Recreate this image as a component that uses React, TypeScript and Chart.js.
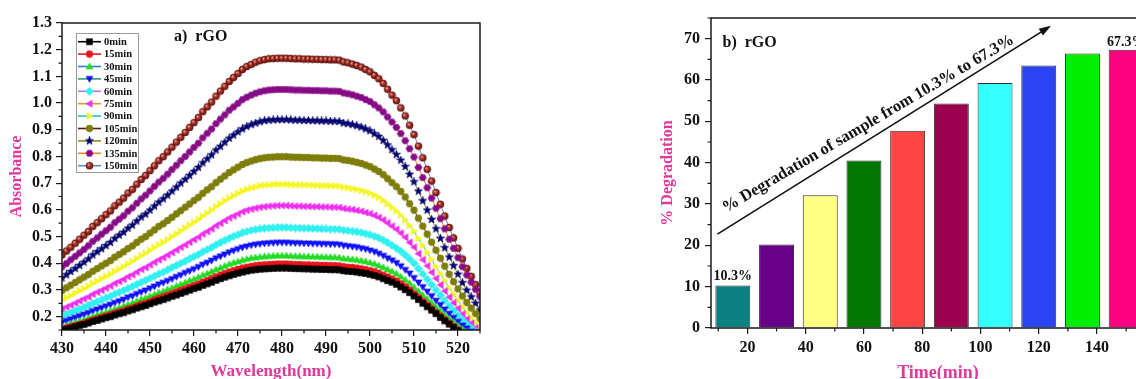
import React, { useEffect, useRef } from 'react';
import { Chart, registerables } from 'chart.js';

Chart.register(...registerables);

const SERIF = '"Liberation Serif", "Times New Roman", Times, serif';
const PINK = '#e0399b';
const INK = '#111111';

// ---------- Left panel: absorbance spectra ----------
const wavelengths = [430, 431, 432, 433, 434, 435, 436, 437, 438, 439, 440, 441, 442, 443, 444, 445, 446, 447, 448, 449, 450, 451, 452, 453, 454, 455, 456, 457, 458, 459, 460, 461, 462, 463, 464, 465, 466, 467, 468, 469, 470, 471, 472, 473, 474, 475, 476, 477, 478, 479, 480, 481, 482, 483, 484, 485, 486, 487, 488, 489, 490, 491, 492, 493, 494, 495, 496, 497, 498, 499, 500, 501, 502, 503, 504, 505, 506, 507, 508, 509, 510, 511, 512, 513, 514, 515, 516, 517, 518, 519, 520, 521, 522, 523, 524, 525];

const abs0min = [.148,.153,.157,.162,.167,.171,.176,.182,.186,.191,.196,.200,.206,.211,.215,.221,.226,.232,.237,.242,.248,.254,.259,.264,.270,.276,.281,.287,.293,.299,.305,.310,.317,.323,.329,.336,.342,.348,.353,.358,.363,.367,.371,.374,.376,.378,.379,
  .380,.381,.382,.382,.382,.381,.380,.380,.379,.379,.378,.378,.377,.377,.376,.376,.375,
  .372,.370,.369,.367,.364,.362,.358,.354,.349,.342,.335,.329,.321,.311,.301,.290,.277,.264,.250,.237,.224,.211,.197,.184,.172,.160,.148,.138,.129,.119,.110,.102];
const abs15min = [.152,.157,.162,.167,.171,.176,.181,.187,.192,.197,.202,.207,.213,.218,.222,.229,.233,.239,.246,.250,.256,.263,.269,.274,.280,.286,.292,.298,.304,.310,.316,.322,.329,.335,.342,.349,.355,.361,.367,.372,.377,.382,.385,.388,.391,.393,.394,
  .395,.396,.397,.397,.397,.396,.395,.395,.394,.394,.393,.393,.392,.392,.391,.391,.390,
  .387,.385,.384,.382,.379,.376,.372,.368,.362,.355,.348,.341,.333,.323,.312,.300,.286,.272,.258,.244,.230,.216,.202,.188,.176,.163,.151,.139,.130,.120,.110,.102];
const abs30min = [.163,.168,.174,.179,.184,.189,.195,.201,.207,.212,.217,.222,.229,.234,.240,.246,.251,.258,.265,.270,.277,.283,.290,.295,.302,.308,.315,.321,.328,.335,.341,.348,.356,.362,.369,.377,.383,.390,.397,.402,.407,.412,.416,.420,.422,.424,.426,
  .427,.428,.429,.429,.429,.428,.427,.427,.426,.426,.425,.425,.424,.424,.423,.423,.422,
  .418,.417,.415,.413,.410,.407,.403,.398,.392,.385,.377,.370,.361,.350,.338,.326,.311,.296,.281,.267,.252,.237,.222,.207,.193,.180,.166,.154,.144,.133,.123,.114];
const abs45min = [.178,.184,.190,.196,.202,.208,.214,.221,.227,.233,.239,.245,.252,.258,.264,.272,.277,.285,.292,.298,.306,.313,.321,.327,.334,.341,.349,.356,.364,.371,.378,.386,.395,.402,.410,.419,.426,.433,.441,.447,.453,.459,.463,.467,.470,.472,.474,
  .475,.476,.477,.477,.477,.476,.475,.475,.474,.474,.473,.473,.472,.472,.471,.471,.470,
  .466,.464,.462,.460,.456,.453,.448,.443,.436,.428,.419,.411,.401,.389,.375,.362,.345,.328,.311,.294,.277,.260,.244,.227,.211,.196,.181,.167,.156,.144,.132,.122];
const abs60min = [.202,.209,.215,.222,.228,.235,.242,.250,.256,.263,.270,.276,.285,.291,.298,.306,.313,.321,.329,.336,.344,.352,.360,.367,.375,.384,.392,.400,.408,.417,.425,.433,.443,.451,.459,.469,.478,.486,.494,.501,.507,.514,.519,.523,.526,.529,.531,
  .532,.533,.534,.534,.534,.533,.532,.532,.531,.531,.530,.530,.529,.529,.528,.528,.527,
  .524,.522,.520,.518,.515,.511,.507,.501,.495,.487,.477,.467,.457,.445,.431,.416,.400,.380,.360,.340,.320,.300,.280,.260,.240,.223,.205,.187,.171,.157,.143,.129];
const abs75min = [.228,.236,.243,.251,.259,.267,.274,.284,.292,.299,.307,.315,.325,.332,.340,.350,.357,.367,.377,.384,.394,.404,.413,.421,.431,.440,.450,.460,.469,.479,.489,.498,.510,.519,.529,.541,.550,.560,.570,.577,.585,.593,.599,.603,.607,.610,.612,
  .614,.615,.616,.616,.616,.615,.614,.614,.613,.613,.612,.612,.611,.611,.610,.610,.609,
  .605,.603,.601,.598,.595,.590,.586,.579,.572,.562,.551,.539,.527,.513,.497,.478,.460,.436,.413,.390,.366,.343,.319,.296,.273,.252,.231,.210,.191,.175,.158,.142];
const abs90min = [.262,.271,.279,.288,.297,.305,.314,.325,.333,.342,.351,.359,.370,.379,.387,.398,.407,.418,.428,.437,.448,.459,.469,.478,.489,.500,.510,.521,.532,.543,.554,.564,.577,.588,.599,.612,.623,.634,.644,.653,.662,.670,.677,.682,.686,.690,.692,
  .694,.695,.696,.696,.696,.695,.694,.694,.693,.693,.692,.692,.691,.691,.690,.690,.689,
  .685,.683,.680,.677,.673,.668,.663,.655,.647,.636,.623,.610,.596,.581,.562,.541,.520,.493,.467,.440,.414,.387,.361,.335,.308,.284,.261,.237,.216,.197,.179,.160];
const abs105min = [.298,.308,.318,.328,.338,.348,.358,.370,.380,.390,.400,.410,.423,.433,.443,.455,.465,.478,.490,.500,.513,.525,.538,.548,.560,.572,.585,.597,.610,.622,.635,.647,.662,.675,.687,.702,.715,.727,.740,.750,.760,.770,.777,.783,.788,.792,.795,
  .797,.798,.799,.799,.799,.798,.797,.797,.796,.796,.795,.795,.794,.794,.793,.793,.792,
  .787,.785,.782,.778,.774,.768,.762,.753,.744,.732,.717,.702,.687,.669,.648,.623,.599,.569,.539,.509,.479,.449,.419,.389,.359,.331,.304,.277,.253,.232,.211,.190];
const abs120min = [.345,.357,.369,.380,.392,.404,.416,.431,.443,.454,.466,.478,.493,.505,.516,.531,.543,.558,.573,.584,.599,.614,.629,.641,.655,.670,.685,.700,.714,.729,.744,.759,.776,.791,.806,.824,.838,.853,.868,.880,.892,.903,.912,.919,.925,.930,.934,
  .936,.937,.938,.938,.938,.937,.936,.936,.935,.935,.934,.934,.933,.933,.932,.932,.931,
  .925,.923,.919,.915,.910,.903,.896,.885,.875,.860,.843,.825,.807,.786,.762,.733,.705,.670,.634,.599,.564,.529,.493,.458,.423,.391,.359,.327,.299,.274,.250,.225];
const abs135min = [.386,.399,.413,.426,.439,.452,.466,.482,.495,.509,.522,.535,.552,.565,.578,.595,.608,.625,.641,.655,.671,.688,.704,.718,.734,.751,.767,.784,.800,.817,.834,.850,.870,.887,.903,.923,.940,.956,.973,.986,.999,1.013,1.022,1.030,1.037,1.042,1.046,
  1.049,1.050,1.051,1.051,1.051,1.050,1.049,1.049,1.048,1.048,1.047,1.047,1.046,1.046,1.045,1.045,1.044,
  1.038,1.035,1.031,1.026,1.021,1.013,1.006,.994,.982,.967,.948,.929,.909,.886,.859,.829,.798,.759,.721,.683,.644,.606,.567,.529,.490,.456,.421,.387,.356,.329,.302,.275];
const abs150min = [.431,.446,.460,.475,.490,.505,.519,.538,.552,.567,.582,.596,.615,.629,.644,.663,.677,.696,.714,.729,.747,.765,.784,.799,.817,.835,.854,.872,.890,.909,.927,.946,.968,.986,1.004,1.026,1.045,1.063,1.081,1.096,1.111,1.126,1.137,1.145,1.153,1.159,1.163,
  1.166,1.167,1.168,1.168,1.168,1.167,1.166,1.166,1.165,1.165,1.164,1.164,1.163,1.163,1.162,1.162,1.161,
  1.154,1.151,1.146,1.141,1.135,1.126,1.117,1.104,1.091,1.074,1.052,1.030,1.009,.982,.952,.917,.882,.839,.795,.752,.708,.665,.621,.577,.534,.495,.456,.416,.381,.351,.320,.290];

const seriesLabels = ['0min', '15min', '30min', '45min', '60min', '75min', '90min', '105min', '120min', '135min', '150min'];
const seriesValues = [abs0min, abs15min, abs30min, abs45min, abs60min, abs75min, abs90min, abs105min, abs120min, abs135min, abs150min];
const lineColors = ['#000000', '#e8141c', '#2f7fd6', '#2e9a6a', '#c070e0', '#d4a020', '#22c4d4', '#5c1a10', '#8c8c1c', '#f08a20', '#5a8ac8'];
const markerColors = ['#000000', '#e8141c', '#22dd22', '#1010ff', '#30f0f0', '#f02cf0', '#f6f626', '#7d7d0a', '#000070', '#860a86', '#8b1a1a'];
const markerShapes = ['square', 'circle', 'triUp', 'triDown', 'diamond', 'triLeft', 'triRight', 'circle', 'star', 'hexagon', 'sphere'];

const absTicks = [0.2, 0.3, 0.4, 0.5, 0.6, 0.7, 0.8, 0.9, 1.0, 1.1, 1.2, 1.3];
const absMinorTicks = [0.15, 0.25, 0.35, 0.45, 0.55, 0.65, 0.75, 0.85, 0.95, 1.05, 1.15, 1.25];
const wlTicks = [430, 440, 450, 460, 470, 480, 490, 500, 510, 520];
const wlMinorTicks = [435, 445, 455, 465, 475, 485, 495, 505, 515, 525];

// ---------- Right panel: degradation bars ----------
const times = [15, 30, 45, 60, 75, 90, 105, 120, 135, 150];
const degradation = [10.3, 20.2, 32.1, 40.5, 47.7, 54.3, 59.3, 63.5, 66.4, 67.3];
const barColors = ['#0a8080', '#680088', '#ffff84', '#007800', '#ff4444', '#9e0050', '#33ffff', '#2a44f4', '#00ee00', '#ff0080'];
const timeTicks = [20, 40, 60, 80, 100, 120, 140];
const timeMinorTicks = [10, 30, 50, 70, 90, 110, 130, 150];
const degTicks = [0, 10, 20, 30, 40, 50, 60, 70];
const degMinorTicks = [5, 15, 25, 35, 45, 55, 65, 75];
const arrowStart = { x: 9.7, y: 22.7 };
const arrowEnd = { x: 124.2, y: 73.1 };
const arrowText = { x: 61.5, y: 49.4, angle: -30.5, text: '% Degradation of sample from 10.3% to 67.3%' };

function polygon(g: CanvasRenderingContext2D, cx: number, cy: number, R: number, n: number, startDeg: number) {
  for (let k = 0; k < n; k++) {
    const a = ((startDeg + (360 / n) * k) * Math.PI) / 180;
    const px = cx + R * Math.cos(a);
    const py = cy + R * Math.sin(a);
    if (k === 0) g.moveTo(px, py); else g.lineTo(px, py);
  }
  g.closePath();
}

function makeMarker(shape: string, color: string): HTMLCanvasElement {
  const s = 9;
  const c = document.createElement('canvas');
  c.width = s; c.height = s;
  const g = c.getContext('2d') as CanvasRenderingContext2D;
  const m = s / 2;
  g.fillStyle = color; g.strokeStyle = color; g.lineWidth = 0.6;
  g.beginPath();
  switch (shape) {
    case 'square': g.rect(m - 3, m - 3, 6, 6); break;
    case 'circle': g.arc(m, m, 3.4, 0, Math.PI * 2); break;
    case 'triUp': polygon(g, m, m + 0.6, 4.0, 3, -90); break;
    case 'triDown': polygon(g, m, m - 0.6, 4.0, 3, 90); break;
    case 'triLeft': polygon(g, m + 0.6, m, 4.0, 3, 180); break;
    case 'triRight': polygon(g, m - 0.6, m, 4.0, 3, 0); break;
    case 'diamond': polygon(g, m, m, 4.1, 4, -90); break;
    case 'hexagon': polygon(g, m, m, 3.6, 6, 0); break;
    case 'star': {
      for (let k = 0; k < 10; k++) {
        const R = k % 2 === 0 ? 4.3 : 1.8;
        const a = ((-90 + 36 * k) * Math.PI) / 180;
        const px = m + R * Math.cos(a);
        const py = m + R * Math.sin(a);
        if (k === 0) g.moveTo(px, py); else g.lineTo(px, py);
      }
      g.closePath();
      break;
    }
    case 'sphere': {
      const grd = g.createRadialGradient(m - 1.2, m - 1.3, 0.2, m, m, 3.6);
      grd.addColorStop(0, '#f2b0a0');
      grd.addColorStop(0.4, '#b23a2c');
      grd.addColorStop(1, '#5a0a0a');
      g.fillStyle = grd;
      g.strokeStyle = '#5a0a0a';
      g.arc(m, m, 3.5, 0, Math.PI * 2);
      break;
    }
    default: g.arc(m, m, 3.4, 0, Math.PI * 2);
  }
  g.fill();
  g.stroke();
  return c;
}

const leftDecor = {
  id: 'leftDecor',
  afterDraw(chart: any) {
    const { ctx, chartArea: a, scales } = chart;
    const markers: HTMLCanvasElement[] = chart.$markers || [];
    ctx.save();
    ctx.strokeStyle = '#1a1a1a';
    ctx.lineWidth = 1.5;
    ctx.strokeRect(a.left, a.top, a.right - a.left, a.bottom - a.top);
    ctx.lineWidth = 1.2;
    ctx.beginPath();
    for (const v of absMinorTicks) {
      const y = scales.y.getPixelForValue(v);
      ctx.moveTo(a.left - 3.5, y); ctx.lineTo(a.left, y);
    }
    for (const v of wlMinorTicks) {
      const x = scales.x.getPixelForValue(v);
      ctx.moveTo(x, a.bottom); ctx.lineTo(x, a.bottom + 3.5);
    }
    ctx.stroke();

    ctx.fillStyle = PINK;
    ctx.textAlign = 'center';
    ctx.textBaseline = 'middle';
    ctx.font = `bold 16px ${SERIF}`;
    ctx.save();
    ctx.translate(17, (a.top + a.bottom) / 2);
    ctx.rotate(-Math.PI / 2);
    ctx.fillText('Absorbance', 0, 0);
    ctx.restore();
    ctx.font = `bold 17px ${SERIF}`;
    ctx.fillText('Wavelength(nm)', (a.left + a.right) / 2, 372);

    ctx.fillStyle = INK;
    ctx.textAlign = 'left';
    ctx.font = `bold 16px ${SERIF}`;
    ctx.fillText('a)  rGO', 174, 37);

    // legend
    const lx = 76, ly = 33, lw = 62, lh = 139;
    ctx.fillStyle = '#ffffff';
    ctx.fillRect(lx, ly, lw, lh);
    ctx.strokeStyle = '#9a9a9a';
    ctx.lineWidth = 1;
    ctx.strokeRect(lx + 0.5, ly + 0.5, lw, lh);
    ctx.font = `bold 10.5px ${SERIF}`;
    seriesLabels.forEach((lab, i) => {
      const y = 41.7 + i * 12.4;
      ctx.strokeStyle = lineColors[i];
      ctx.lineWidth = 1.6;
      ctx.beginPath();
      ctx.moveTo(78, y); ctx.lineTo(101, y);
      ctx.stroke();
      const mk = markers[i];
      if (mk) ctx.drawImage(mk, 89.5 - mk.width / 2, y - mk.height / 2);
      ctx.fillStyle = INK;
      ctx.fillText(lab, 104, y + 0.5);
    });
    ctx.restore();
  },
};

const rightDecor = {
  id: 'rightDecor',
  afterDraw(chart: any) {
    const { ctx, chartArea: a, scales } = chart;
    const xs = scales.x, ys = scales.y;
    ctx.save();
    ctx.strokeStyle = '#1a1a1a';
    ctx.lineWidth = 1.5;
    ctx.strokeRect(a.left, a.top, a.right - a.left, a.bottom - a.top);
    ctx.lineWidth = 1.2;
    ctx.beginPath();
    for (const v of degMinorTicks) {
      const y = ys.getPixelForValue(v);
      ctx.moveTo(a.left - 3.5, y); ctx.lineTo(a.left, y);
    }
    for (const v of timeMinorTicks) {
      const x = xs.getPixelForValue(v);
      ctx.moveTo(x, a.bottom); ctx.lineTo(x, a.bottom + 3.5);
    }
    ctx.stroke();

    ctx.fillStyle = PINK;
    ctx.textAlign = 'center';
    ctx.textBaseline = 'middle';
    ctx.font = `bold 16px ${SERIF}`;
    ctx.save();
    ctx.translate(68, (a.top + a.bottom) / 2);
    ctx.rotate(-Math.PI / 2);
    ctx.fillText('% Degradation', 0, 0);
    ctx.restore();
    ctx.font = `bold 18px ${SERIF}`;
    ctx.fillText('Time(min)', 338, 373);

    ctx.fillStyle = INK;
    ctx.textAlign = 'left';
    ctx.font = `bold 16px ${SERIF}`;
    ctx.fillText('b)  rGO', 122.5, 42.5);

    // value labels on first and last bar
    const meta = chart.getDatasetMeta(0);
    ctx.textAlign = 'center';
    ctx.font = `bold 14px ${SERIF}`;
    const first = meta.data[0];
    const last = meta.data[meta.data.length - 1];
    ctx.fillText(degradation[0].toFixed(1) + '%', first.x, first.y - 9);
    ctx.fillText(degradation[degradation.length - 1].toFixed(1) + '%', last.x, last.y - 7);

    // arrow
    const x1 = xs.getPixelForValue(arrowStart.x), y1 = ys.getPixelForValue(arrowStart.y);
    const x2 = xs.getPixelForValue(arrowEnd.x), y2 = ys.getPixelForValue(arrowEnd.y);
    const ang = Math.atan2(y2 - y1, x2 - x1);
    ctx.strokeStyle = '#111';
    ctx.lineWidth = 1.6;
    ctx.beginPath();
    ctx.moveTo(x1, y1);
    ctx.lineTo(x2 - 8 * Math.cos(ang), y2 - 8 * Math.sin(ang));
    ctx.stroke();
    ctx.fillStyle = '#111';
    ctx.beginPath();
    ctx.moveTo(x2, y2);
    ctx.lineTo(x2 - 12 * Math.cos(ang) + 4 * Math.sin(ang), y2 - 12 * Math.sin(ang) - 4 * Math.cos(ang));
    ctx.lineTo(x2 - 12 * Math.cos(ang) - 4 * Math.sin(ang), y2 - 12 * Math.sin(ang) + 4 * Math.cos(ang));
    ctx.closePath();
    ctx.fill();

    // rotated annotation
    ctx.save();
    ctx.translate(xs.getPixelForValue(arrowText.x), ys.getPixelForValue(arrowText.y));
    ctx.rotate((arrowText.angle * Math.PI) / 180);
    ctx.font = `bold 16.5px ${SERIF}`;
    ctx.fillStyle = INK;
    ctx.textAlign = 'center';
    ctx.textBaseline = 'middle';
    ctx.fillText(arrowText.text, 0, 0);
    ctx.restore();
    ctx.restore();
  },
};

const tickFont = { family: SERIF, size: 16, weight: 'bold' as const };

export default function App() {
  const leftRef = useRef<HTMLCanvasElement | null>(null);
  const rightRef = useRef<HTMLCanvasElement | null>(null);

  useEffect(() => {
    if (!leftRef.current || !rightRef.current) return;
    const markers = markerShapes.map((s, i) => makeMarker(s, markerColors[i]));

    const left = new Chart(leftRef.current, {
      type: 'line',
      data: {
        datasets: seriesValues.map((vals, i) => ({
          label: seriesLabels[i],
          data: wavelengths.map((w, j) => ({ x: w, y: vals[j] })),
          borderColor: lineColors[i],
          borderWidth: 1,
          pointStyle: markers[i] as any,
          pointRadius: 4,
          pointHoverRadius: 4,
          tension: 0,
          clip: 0,
        })),
      },
      options: {
        animation: false,
        responsive: false,
        events: [],
        layout: { padding: { left: 0, top: 23, right: 120, bottom: 0 } },
        plugins: { legend: { display: false }, tooltip: { enabled: false } },
        scales: {
          x: {
            type: 'linear',
            min: 430,
            max: 525,
            afterBuildTicks: (s: any) => { s.ticks = wlTicks.map((v) => ({ value: v })); },
            afterFit: (s: any) => { s.height = 49; },
            ticks: { autoSkip: false, maxRotation: 0, font: tickFont, color: INK, padding: 3 },
            grid: { drawOnChartArea: false, tickLength: 6, color: '#1a1a1a', lineWidth: 1.2 },
            border: { display: false },
          },
          y: {
            type: 'linear',
            min: 0.15,
            max: 1.3,
            afterBuildTicks: (s: any) => { s.ticks = absTicks.map((v) => ({ value: v })); },
            afterFit: (s: any) => { s.width = 62; },
            ticks: { autoSkip: false, font: tickFont, color: INK, padding: 4, callback: (v: any) => Number(v).toFixed(1) },
            grid: { drawOnChartArea: false, tickLength: 6, color: '#1a1a1a', lineWidth: 1.2 },
            border: { display: false },
          },
        },
      },
      plugins: [leftDecor],
    });
    (left as any).$markers = markers;
    left.draw();

    const right = new Chart(rightRef.current, {
      type: 'bar',
      data: {
        datasets: [{
          label: 'Degradation',
          data: times.map((t, i) => ({ x: t, y: degradation[i] })),
          backgroundColor: barColors,
          borderColor: '#333333',
          borderWidth: 1,
          barPercentage: 0.8,
          categoryPercentage: 1,
        }],
      },
      options: {
        animation: false,
        responsive: false,
        events: [],
        layout: { padding: { left: 0, top: 18, right: 52, bottom: 0 } },
        plugins: { legend: { display: false }, tooltip: { enabled: false } },
        scales: {
          x: {
            type: 'linear',
            min: 7.5,
            max: 157.5,
            offset: false,
            afterBuildTicks: (s: any) => { s.ticks = timeTicks.map((v) => ({ value: v })); },
            afterFit: (s: any) => { s.height = 51; },
            ticks: { autoSkip: false, maxRotation: 0, font: tickFont, color: INK, padding: 4 },
            grid: { drawOnChartArea: false, tickLength: 6, color: '#1a1a1a', lineWidth: 1.2, offset: false },
            border: { display: false },
          },
          y: {
            type: 'linear',
            min: 0,
            max: 75,
            afterBuildTicks: (s: any) => { s.ticks = degTicks.map((v) => ({ value: v })); },
            afterFit: (s: any) => { s.width = 111; },
            ticks: { autoSkip: false, font: tickFont, color: INK, padding: 5 },
            grid: { drawOnChartArea: false, tickLength: 6, color: '#1a1a1a', lineWidth: 1.2 },
            border: { display: false },
          },
        },
      },
      plugins: [rightDecor],
    });

    return () => {
      left.destroy();
      right.destroy();
    };
  }, []);

  return (
    <div style={{ position: 'absolute', left: 0, top: 0, width: 1136, height: 379, overflow: 'hidden', background: '#ffffff' }}>
      <canvas ref={leftRef} width={600} height={379} style={{ position: 'absolute', left: 0, top: 0, width: 600, height: 379 }} />
      <canvas ref={rightRef} width={600} height={379} style={{ position: 'absolute', left: 600, top: 0, width: 600, height: 379 }} />
    </div>
  );
}
